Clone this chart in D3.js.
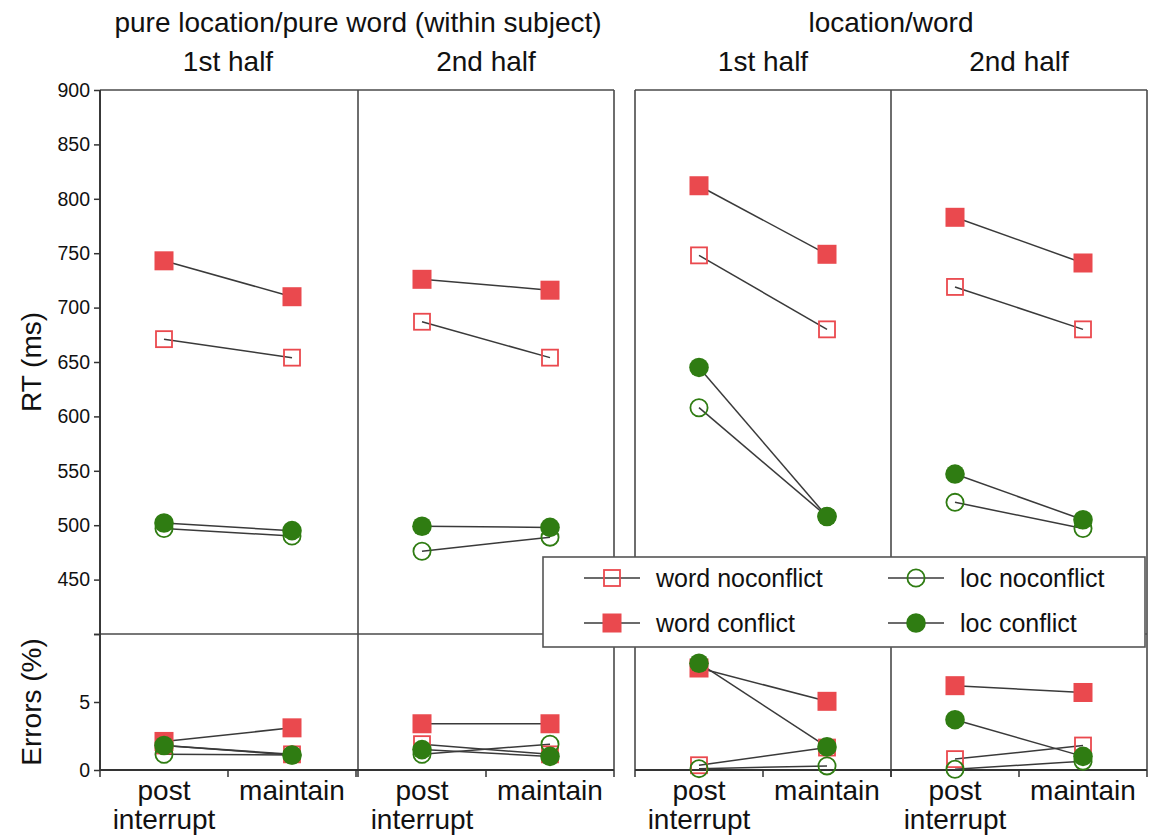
<!DOCTYPE html>
<html>
<head>
<meta charset="utf-8">
<script src="https://cdn.jsdelivr.net/npm/d3@7/dist/d3.min.js"></script>
<style>
  body { margin: 0; background: #fff; }
  svg { display: block; font-family: "Liberation Sans", Arial, Helvetica, sans-serif; }
</style>
</head>
<body>
<svg id="chart" width="1149" height="840"></svg>
<script>
// Conditions on the x axis of every panel
const conditions = ["post interrupt", "maintain"];
const conditionLines = [["post", "interrupt"], ["maintain"]];

// Panels: design group and block half
const groupTitles = ["pure location/pure word (within subject)", "location/word"];
const halfTitles = ["1st half", "2nd half"];

// Mean RT (ms) per panel [pure 1st, pure 2nd, loc/word 1st, loc/word 2nd], each [post interrupt, maintain]
const rtWordNoconflict = [[671, 654], [687, 654], [748, 680], [719, 680]];
const rtWordConflict   = [[743, 710], [726, 716], [812, 749], [783, 741]];
const rtLocNoconflict  = [[497, 490], [476, 489], [608, 508], [521, 497]];
const rtLocConflict    = [[502, 495], [499, 498], [645, 508], [547, 505]];

// Error rates (%) per panel, same layout
const errWordNoconflict = [[1.8, 1.15], [1.9, 1.15], [0.35, 1.65], [0.8, 1.8]];
const errWordConflict   = [[2.1, 3.1], [3.4, 3.4], [7.5, 5.05], [6.2, 5.7]];
const errLocNoconflict  = [[1.15, 1.1], [1.15, 1.9], [0.1, 0.3], [0.05, 0.65]];
const errLocConflict    = [[1.8, 1.1], [1.5, 1.0], [7.85, 1.7], [3.7, 1.0]];

// Axis ticks
const rtTicks = [400, 450, 500, 550, 600, 650, 700, 750, 800, 850, 900];
const errTicks = [0, 5, 10];

const RED = "#ea494e";
const GREEN = "#2f7c12";

const series = [
  { name: "word noconflict", rt: rtWordNoconflict, err: errWordNoconflict, shape: "square", filled: false, color: RED },
  { name: "word conflict",   rt: rtWordConflict,   err: errWordConflict,   shape: "square", filled: true,  color: RED },
  { name: "loc noconflict",  rt: rtLocNoconflict,  err: errLocNoconflict,  shape: "circle", filled: false, color: GREEN },
  { name: "loc conflict",    rt: rtLocConflict,    err: errLocConflict,    shape: "circle", filled: true,  color: GREEN }
];

const svg = d3.select("#chart");

// Geometry
const panelLeft = [100, 358, 635, 891];
const panelW = 256;
const yTop = 90, yMid = 634, yBottom = 770;

const yRT = d3.scaleLinear().domain([400, 900]).range([yMid, yTop]);
const yErr = d3.scaleLinear().domain([0, 10]).range([yBottom, yMid]);

const frameColor = "#4a4a4a";
const axisColor = "#333";
const textColor = "#111";
const bigFont = 28;

// Per-panel x scales
const xScales = panelLeft.map(x0 => d3.scaleBand().domain(conditions).range([x0, x0 + panelW]).padding(0));
const cx = (i, c) => xScales[i](c) + xScales[i].bandwidth() / 2;

// Frames of each group
[[0, 1], [2, 3]].forEach(pair => {
  const x0 = panelLeft[pair[0]], x1 = panelLeft[pair[1]] + panelW;
  const g = svg.append("g").attr("fill", "none").attr("stroke", frameColor).attr("stroke-width", 1.6);
  g.append("line").attr("x1", x0).attr("x2", x1).attr("y1", yTop).attr("y2", yTop);
  g.append("line").attr("x1", x0).attr("x2", x1).attr("y1", yMid).attr("y2", yMid);
  g.append("line").attr("x1", x1).attr("x2", x1).attr("y1", yTop).attr("y2", yBottom);
  g.append("line").attr("x1", panelLeft[pair[1]]).attr("x2", panelLeft[pair[1]]).attr("y1", yTop).attr("y2", yBottom);
  g.append("line").attr("x1", x0).attr("x2", x0).attr("y1", yTop).attr("y2", yBottom);
});

// Left y axes
const rtAxis = d3.axisLeft(yRT).tickValues(rtTicks).tickSize(6).tickPadding(4)
  .tickFormat(d => d === 400 ? "" : d);
const errAxis = d3.axisLeft(yErr).tickValues(errTicks).tickSize(6).tickPadding(4)
  .tickFormat(d => d === 10 ? "" : d);

[rtAxis, errAxis].forEach(ax => {
  const g = svg.append("g").attr("transform", `translate(${panelLeft[0]},0)`).call(ax);
  g.select(".domain").remove();
  g.selectAll("line").attr("stroke", axisColor).attr("stroke-width", 1.5);
  g.selectAll("text").attr("font-size", 19.5).attr("fill", textColor)
    .attr("font-family", "Liberation Sans, Arial, sans-serif");
});
svg.append("line").attr("x1", panelLeft[0]).attr("x2", panelLeft[0])
  .attr("y1", yTop).attr("y2", yBottom).attr("stroke", axisColor).attr("stroke-width", 1.8);

// Bottom axes per group
[[0, 1], [2, 3]].forEach(pair => {
  const x0 = panelLeft[pair[0]], x1 = panelLeft[pair[1]] + panelW;
  svg.append("line").attr("x1", x0).attr("x2", x1).attr("y1", yBottom).attr("y2", yBottom)
    .attr("stroke", axisColor).attr("stroke-width", 1.8);
  pair.forEach(i => {
    const xs = xScales[i];
    const edges = conditions.map(c => xs(c)).concat([xs.range()[1]]);
    edges.forEach(e => {
      svg.append("line").attr("x1", e).attr("x2", e).attr("y1", yBottom).attr("y2", yBottom + 7)
        .attr("stroke", axisColor).attr("stroke-width", 1.5);
    });
    conditions.forEach((c, k) => {
      const t = svg.append("text").attr("x", cx(i, c)).attr("y", yBottom + 30)
        .attr("text-anchor", "middle").attr("font-size", bigFont).attr("fill", textColor);
      conditionLines[k].forEach((ln, j) => {
        t.append("tspan").attr("x", cx(i, c)).attr("dy", j === 0 ? 0 : 29).text(ln);
      });
    });
  });
});

// Titles
svg.append("text").attr("x", 358).attr("y", 32).attr("text-anchor", "middle")
  .attr("font-size", bigFont).attr("fill", textColor).text(groupTitles[0]);
svg.append("text").attr("x", 891).attr("y", 32).attr("text-anchor", "middle")
  .attr("font-size", bigFont).attr("fill", textColor).text(groupTitles[1]);
panelLeft.forEach((x0, i) => {
  svg.append("text").attr("x", x0 + panelW / 2).attr("y", 71).attr("text-anchor", "middle")
    .attr("font-size", bigFont).attr("fill", textColor).text(halfTitles[i % 2]);
});

// Y axis titles
svg.append("text").attr("transform", `translate(41,${(yTop + yMid) / 2}) rotate(-90)`)
  .attr("text-anchor", "middle").attr("font-size", bigFont).attr("fill", textColor).text("RT (ms)");
svg.append("text").attr("transform", `translate(41,${(yMid + yBottom) / 2}) rotate(-90)`)
  .attr("text-anchor", "middle").attr("font-size", bigFont).attr("fill", textColor).text("Errors (%)");

// Marker drawing
function marker(g, s, x, y) {
  if (s.shape === "square") {
    const size = s.filled ? 19 : 16;
    g.append("rect").attr("x", x - size / 2).attr("y", y - size / 2)
      .attr("width", size).attr("height", size)
      .attr("fill", s.filled ? s.color : "none")
      .attr("stroke", s.color).attr("stroke-width", s.filled ? 0 : 1.8);
  } else {
    const r = s.filled ? 9.8 : 8.6;
    g.append("circle").attr("cx", x).attr("cy", y).attr("r", r)
      .attr("fill", s.filled ? s.color : "none")
      .attr("stroke", s.color).attr("stroke-width", s.filled ? 0 : 1.8);
  }
}

const lineGen = d3.line().x(d => d[0]).y(d => d[1]);

// Connecting lines, then markers, per measure
[[ "rt", yRT ], [ "err", yErr ]].forEach(([key, y]) => {
  const lg = svg.append("g");
  const mg = svg.append("g");
  panelLeft.forEach((_, i) => {
    series.forEach(s => {
      const pts = conditions.map((c, k) => [cx(i, c), y(s[key][i][k])]);
      lg.append("path").attr("d", lineGen(pts)).attr("fill", "none")
        .attr("stroke", "#3a3a3a").attr("stroke-width", 1.5);
    });
  });
  panelLeft.forEach((_, i) => {
    series.forEach(s => {
      conditions.forEach((c, k) => marker(mg, s, cx(i, c), y(s[key][i][k])));
    });
  });
});

// Legend
const leg = svg.append("g");
leg.append("rect").attr("x", 543).attr("y", 557).attr("width", 602).attr("height", 90)
  .attr("fill", "#fff").attr("stroke", "#555").attr("stroke-width", 1.6);
const legPos = [[612, 578], [612, 623], [916, 578], [916, 623]];
series.forEach((s, i) => {
  const [x, y] = legPos[i];
  leg.append("line").attr("x1", x - 28).attr("x2", x + 28).attr("y1", y).attr("y2", y)
    .attr("stroke", "#3a3a3a").attr("stroke-width", 1.5);
  marker(leg, s, x, y);
  leg.append("text").attr("x", x + 44).attr("y", y + 9).attr("font-size", 25)
    .attr("fill", textColor).text(s.name);
});
</script>
</body>
</html>
